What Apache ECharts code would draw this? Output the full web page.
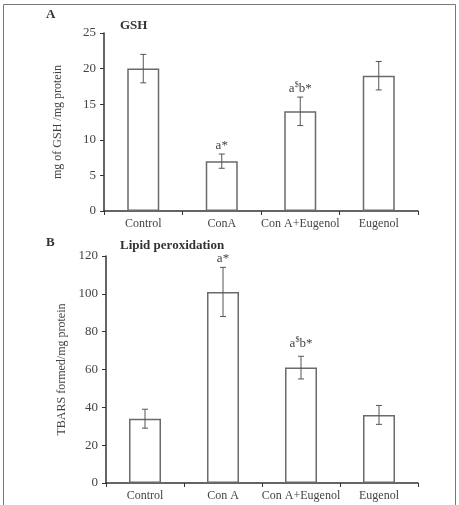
<!DOCTYPE html>
<html>
<head>
<meta charset="utf-8">
<script src="https://cdn.jsdelivr.net/npm/echarts@6/dist/echarts.min.js"></script>
<style>
html, body { margin: 0; padding: 0; background: #fff; }
#main { width: 459px; height: 505px; }
</style>
</head>
<body>
<div id="main"></div>
<script>
// data
var catsA = ['Control', 'ConA', 'Con A+Eugenol', 'Eugenol'];
var meanA = [20, 7, 14, 19];
var errA = [2, 1, 2, 2];
var noteA = ['', 'a*', 'a$b*', ''];
var ticksA = [0, 5, 10, 15, 20, 25];

var catsB = ['Control', 'Con A', 'Con A+Eugenol', 'Eugenol'];
var meanB = [34, 101, 61, 36];
var errB = [5, 13, 6, 5];
var noteB = ['', 'a*', 'a$b*', ''];
var ticksB = [0, 20, 40, 60, 80, 100, 120];

var FONT = '"Liberation Serif", "DejaVu Serif", serif';
var TXT = '#444';

var chart = echarts.init(document.getElementById('main'));

function errData(mean, err, note) {
	var out = [];
	for (var i = 0; i < mean.length; i++) {
		out.push([i, mean[i] - err[i], mean[i] + err[i], note[i]]);
	}
	return out;
}

// rich text for the superscript "$"
function noteText(s) {
	if (s.indexOf('$') < 0) return '{n|' + s + '}';
	var p = s.split('$');
	return '{n|' + p[0] + '}{s|$}{n|' + p[1] + '}';
}

function renderErr(params, api) {
	var x = api.value(0);
	var lo = api.coord([x, api.value(1)]);
	var hi = api.coord([x, api.value(2)]);
	var cap = 3;
	var st = { stroke: '#555', lineWidth: 1 };
	var kids = [
		{ type: 'line', shape: { x1: hi[0], y1: hi[1], x2: lo[0], y2: lo[1] }, style: st },
		{ type: 'line', shape: { x1: hi[0] - cap, y1: hi[1], x2: hi[0] + cap, y2: hi[1] }, style: st },
		{ type: 'line', shape: { x1: lo[0] - cap, y1: lo[1], x2: lo[0] + cap, y2: lo[1] }, style: st }
	];
	var note = api.value(3);
	if (note) {
		// the top note in B sits almost on its error bar
		var gap = (hi[1] < 270) ? 2 : 6;
		kids.push({
			type: 'text',
			style: {
				x: hi[0],
				y: hi[1] - gap,
				text: noteText(note),
				align: 'center',
				verticalAlign: 'bottom',
				rich: {
					n: { fontFamily: FONT, fontSize: 13, fill: TXT, lineHeight: 14, verticalAlign: 'bottom' },
					s: { fontFamily: FONT, fontSize: 8, fill: TXT, lineHeight: 14, verticalAlign: 'top' }
				}
			}
		});
	}
	return { type: 'group', children: kids };
}

function xAx(idx, cats) {
	return {
		type: 'category',
		gridIndex: idx,
		data: cats,
		axisLine: { lineStyle: { color: '#333', width: 1.5 } },
		axisTick: { show: true, length: 4, lineStyle: { color: '#333' } },
		axisLabel: { interval: 0, fontFamily: FONT, fontSize: 12, color: TXT, margin: 7 }
	};
}

function yAx(idx, ticks, name, gap, margin) {
	return {
		type: 'value',
		gridIndex: idx,
		min: ticks[0],
		max: ticks[ticks.length - 1],
		interval: ticks[1] - ticks[0],
		name: name,
		nameLocation: 'middle',
		nameGap: gap,
		nameTextStyle: { fontFamily: FONT, fontSize: 12, color: TXT },
		axisLine: { show: true, lineStyle: { color: '#333', width: 1.5 } },
		axisTick: { show: true, length: 4, lineStyle: { color: '#333' } },
		axisLabel: { fontFamily: FONT, fontSize: 13, color: TXT, margin: margin },
		splitLine: { show: false }
	};
}

function barSeries(idx, mean) {
	return {
		type: 'bar',
		xAxisIndex: idx,
		yAxisIndex: idx,
		data: mean,
		barWidth: 32,
		itemStyle: { color: '#fff', borderColor: '#6a6a6a', borderWidth: 1.5 },
		silent: true
	};
}

function errSeries(idx, mean, err, note) {
	return {
		type: 'custom',
		xAxisIndex: idx,
		yAxisIndex: idx,
		data: errData(mean, err, note),
		encode: { x: 0, y: [1, 2] },
		renderItem: renderErr,
		z: 5,
		silent: true
	};
}

function title(x, y, s) {
	return {
		type: 'text',
		left: x,
		top: y,
		style: { text: s, fontFamily: FONT, fontSize: 13, fontWeight: 'bold', fill: '#333' }
	};
}

chart.setOption({
	animation: false,
	backgroundColor: '#fff',
	grid: [
		{ left: 104, right: 41, top: 33, height: 178 },
		{ left: 106, right: 41, top: 256, height: 227 }
	],
	xAxis: [xAx(0, catsA), xAx(1, catsB)],
	yAxis: [
		yAx(0, ticksA, 'mg of GSH /mg protein', 40, 8),
		yAx(1, ticksB, 'TBARS formed/mg protein', 38, 8)
	],
	series: [
		barSeries(0, meanA),
		errSeries(0, meanA, errA, noteA),
		barSeries(1, meanB),
		errSeries(1, meanB, errB, noteB)
	],
	graphic: [
		{
			type: 'rect',
			shape: { x: 3.5, y: 4.5, width: 452, height: 520 },
			style: { fill: 'none', stroke: '#777', lineWidth: 1 }
		},
		title(46, 8, 'A'),
		title(120, 19, 'GSH'),
		title(46, 236, 'B'),
		title(120, 239, 'Lipid peroxidation')
	]
});
</script>
</body>
</html>
